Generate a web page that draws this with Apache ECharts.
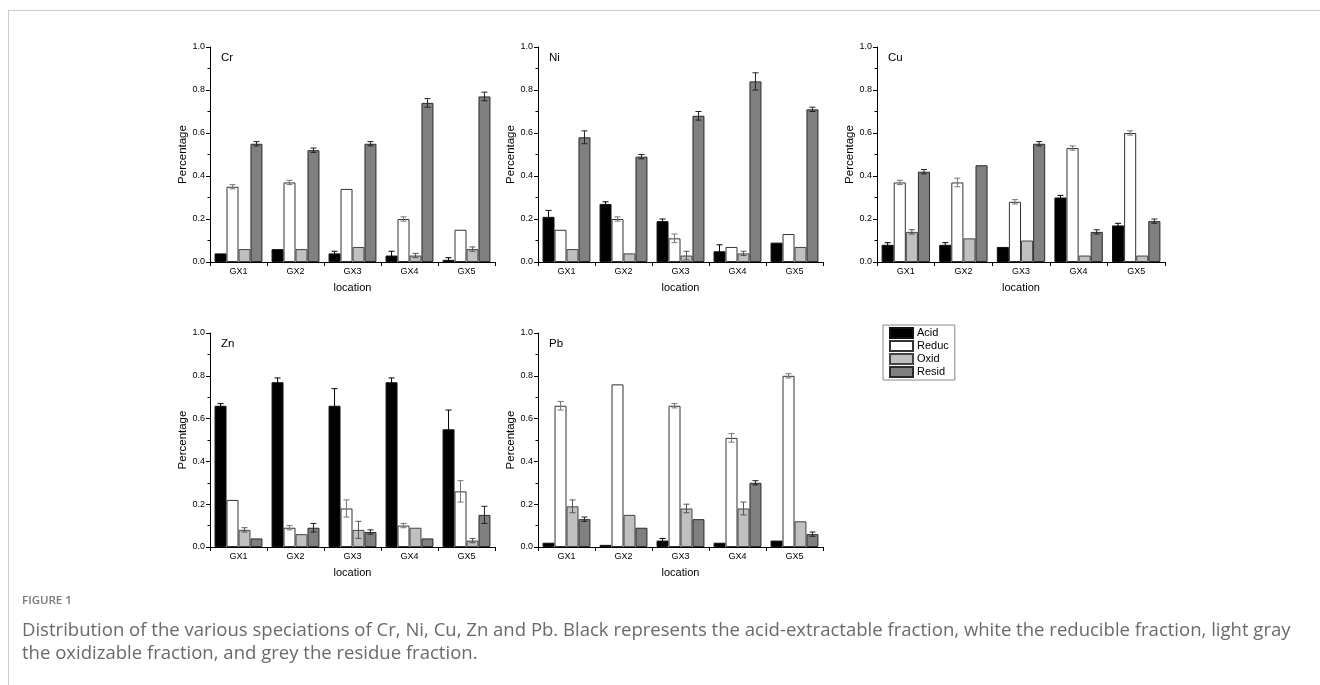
<!DOCTYPE html>
<html>
<head>
<meta charset="utf-8">
<script src="https://cdn.jsdelivr.net/npm/echarts@6/dist/echarts.min.js"></script>
<style>
  html, body { margin: 0; padding: 0; background: #fff; }
  #frame { position: absolute; left: 8px; top: 10px; right: 0; bottom: 0; border-top: 1px solid #ccc; border-left: 1px solid #ccc; }
  #chart { position: absolute; left: 0; top: 0; width: 1320px; height: 685px; }
  .cap { position: absolute; left: 22px; font-family: 'Open Sans', sans-serif; color: #666; white-space: nowrap; }
</style>
</head>
<body>
<div id="frame"></div>
<div id="chart"></div>
<div class="cap" style="top:592px;font-size:11.5px;font-weight:600;color:#777;">FIGURE 1</div>
<div class="cap" style="top:617px;font-size:18.55px;line-height:23px;color:#6a6a6a;">Distribution of the various speciations of Cr, Ni, Cu, Zn and Pb. Black represents the acid-extractable fraction, white the reducible fraction, light gray<br>the oxidizable fraction, and grey the residue fraction.</div>
<script>
const locations = ['GX1', 'GX2', 'GX3', 'GX4', 'GX5'];
const fractions = ['Acid', 'Reduc', 'Oxid', 'Resid'];

// rows: Acid, Reduc, Oxid, Resid ; columns: GX1..GX5
const crValues = [
  [0.04, 0.06, 0.04, 0.03, 0.01],
  [0.35, 0.37, 0.34, 0.20, 0.15],
  [0.06, 0.06, 0.07, 0.03, 0.06],
  [0.55, 0.52, 0.55, 0.74, 0.77]
];
const crErrors = [
  [0, 0, 0.01, 0.02, 0.01],
  [0.01, 0.01, 0, 0.01, 0],
  [0, 0, 0, 0.01, 0.01],
  [0.01, 0.01, 0.01, 0.02, 0.02]
];
const niValues = [
  [0.21, 0.27, 0.19, 0.05, 0.09],
  [0.15, 0.20, 0.11, 0.07, 0.13],
  [0.06, 0.04, 0.03, 0.04, 0.07],
  [0.58, 0.49, 0.68, 0.84, 0.71]
];
const niErrors = [
  [0.03, 0.01, 0.01, 0.03, 0],
  [0, 0.01, 0.02, 0, 0],
  [0, 0, 0.02, 0.01, 0],
  [0.03, 0.01, 0.02, 0.04, 0.01]
];
const cuValues = [
  [0.08, 0.08, 0.07, 0.30, 0.17],
  [0.37, 0.37, 0.28, 0.53, 0.60],
  [0.14, 0.11, 0.10, 0.03, 0.03],
  [0.42, 0.45, 0.55, 0.14, 0.19]
];
const cuErrors = [
  [0.01, 0.01, 0, 0.01, 0.01],
  [0.01, 0.02, 0.01, 0.01, 0.01],
  [0.01, 0, 0, 0, 0],
  [0.01, 0, 0.01, 0.01, 0.01]
];
const znValues = [
  [0.66, 0.77, 0.66, 0.77, 0.55],
  [0.22, 0.09, 0.18, 0.10, 0.26],
  [0.08, 0.06, 0.08, 0.09, 0.03],
  [0.04, 0.09, 0.07, 0.04, 0.15]
];
const znErrors = [
  [0.01, 0.02, 0.08, 0.02, 0.09],
  [0, 0.01, 0.04, 0.01, 0.05],
  [0.01, 0, 0.04, 0, 0.01],
  [0, 0.02, 0.01, 0, 0.04]
];
const pbValues = [
  [0.02, 0.01, 0.03, 0.02, 0.03],
  [0.66, 0.76, 0.66, 0.51, 0.80],
  [0.19, 0.15, 0.18, 0.18, 0.12],
  [0.13, 0.09, 0.13, 0.30, 0.06]
];
const pbErrors = [
  [0, 0, 0.01, 0, 0],
  [0.02, 0, 0.01, 0.02, 0.01],
  [0.03, 0, 0.02, 0.03, 0],
  [0.01, 0, 0, 0.01, 0.01]
];

const panels = [
  { name: 'Cr', values: crValues, errors: crErrors },
  { name: 'Ni', values: niValues, errors: niErrors },
  { name: 'Cu', values: cuValues, errors: cuErrors },
  { name: 'Zn', values: znValues, errors: znErrors },
  { name: 'Pb', values: pbValues, errors: pbErrors }
];
const boxes = [
  { left: 210, top: 47, width: 285, height: 215 },
  { left: 538, top: 47, width: 285, height: 215 },
  { left: 877, top: 47, width: 288, height: 215 },
  { left: 210, top: 333, width: 285, height: 214 },
  { left: 538, top: 333, width: 285, height: 214 }
];

const FONT = 'Arial, "Liberation Sans", Helvetica, sans-serif';
const FILL = ['#000000', '#ffffff', '#c0c0c0', '#808080'];
const BORDER = ['#111111', '#333333', '#444444', '#2a2a2a'];
const ERR = ['#000000', '#777777', '#555555', '#222222'];
const GAP = 0.16;

const chart = echarts.init(document.getElementById('chart'));

const series = [];
panels.forEach((p, gi) => {
  fractions.forEach((f, fi) => {
    series.push({
      name: f,
      type: 'bar',
      xAxisIndex: gi,
      yAxisIndex: gi,
      data: p.values[fi],
      barGap: '0%',
      barCategoryGap: (GAP * 100) + '%',
      itemStyle: { color: FILL[fi], borderColor: BORDER[fi], borderWidth: 1 },
      emphasis: { disabled: true },
      animation: false
    });
  });
  const errData = [];
  p.errors.forEach((row, fi) => {
    row.forEach((e, ci) => {
      if (e > 0) errData.push([ci, fi, p.values[fi][ci], e]);
    });
  });
  series.push({
    type: 'custom',
    xAxisIndex: gi,
    yAxisIndex: gi,
    data: errData,
    encode: { x: 0, y: 2 },
    z: 5,
    silent: true,
    animation: false,
    renderItem: function (params, api) {
      const c = api.value(0), fi = api.value(1), v = api.value(2), e = api.value(3);
      const band = api.size([1, 0])[0];
      const groupW = band * (1 - GAP);
      const bw = groupW / 4;
      const x = api.coord([c, 0])[0] - groupW / 2 + bw * (fi + 0.5);
      const yHi = api.coord([c, v + e])[1];
      const yLo = api.coord([c, v - e])[1];
      const cap = 3;
      const st = { stroke: ERR[fi], lineWidth: 1 };
      return {
        type: 'group',
        children: [
          { type: 'line', shape: { x1: x, y1: yHi, x2: x, y2: yLo }, style: st },
          { type: 'line', shape: { x1: x - cap, y1: yHi, x2: x + cap, y2: yHi }, style: st },
          { type: 'line', shape: { x1: x - cap, y1: yLo, x2: x + cap, y2: yLo }, style: st }
        ]
      };
    }
  });
});

const option = {
  backgroundColor: 'transparent',
  animation: false,
  textStyle: { fontFamily: FONT },
  title: panels.map((p, gi) => ({
    text: p.name,
    left: boxes[gi].left + 11,
    top: boxes[gi].top + 5,
    padding: 0,
    textStyle: { fontSize: 11.5, fontWeight: 'normal', color: '#000', fontFamily: FONT }
  })),
  legend: {
    data: fractions,
    orient: 'vertical',
    left: 883,
    top: 325,
    padding: [2, 6, 2, 6],
    itemWidth: 23,
    itemHeight: 10,
    itemGap: 1,
    icon: 'rect',
    borderColor: '#888',
    borderWidth: 1,
    borderRadius: 0,
    selectedMode: false,
    textStyle: { fontSize: 11, color: '#000', fontFamily: FONT, lineHeight: 12, padding: [0, 0, 0, -1] }
  },
  grid: boxes.map(b => ({ left: b.left, top: b.top, width: b.width, height: b.height, containLabel: false })),
  xAxis: panels.map((p, gi) => ({
    type: 'category',
    gridIndex: gi,
    data: locations,
    name: 'location',
    nameLocation: 'middle',
    nameGap: 20,
    nameTextStyle: { fontSize: 11, color: '#000', fontFamily: FONT },
    axisLine: { lineStyle: { color: '#000', width: 1 } },
    axisTick: { show: true, length: 4, lineStyle: { color: '#000' } },
    axisLabel: { fontSize: 9, color: '#000', fontFamily: FONT, margin: 5 },
    splitLine: { show: false }
  })),
  yAxis: panels.map((p, gi) => ({
    type: 'value',
    gridIndex: gi,
    min: 0,
    max: 1,
    interval: 0.2,
    name: 'Percentage',
    nameLocation: 'middle',
    nameGap: 20,
    nameTextStyle: { fontSize: 11.5, color: '#000', fontFamily: FONT },
    axisLine: { show: true, lineStyle: { color: '#000', width: 1 } },
    axisTick: { show: true, length: 4, lineStyle: { color: '#000' } },
    minorTick: { show: true, splitNumber: 2, length: 2.5, lineStyle: { color: '#000' } },
    axisLabel: { fontSize: 9, color: '#000', fontFamily: FONT, margin: 5, formatter: v => v.toFixed(1) },
    splitLine: { show: false }
  })),
  series: series
};

chart.setOption(option);
</script>
</body>
</html>
